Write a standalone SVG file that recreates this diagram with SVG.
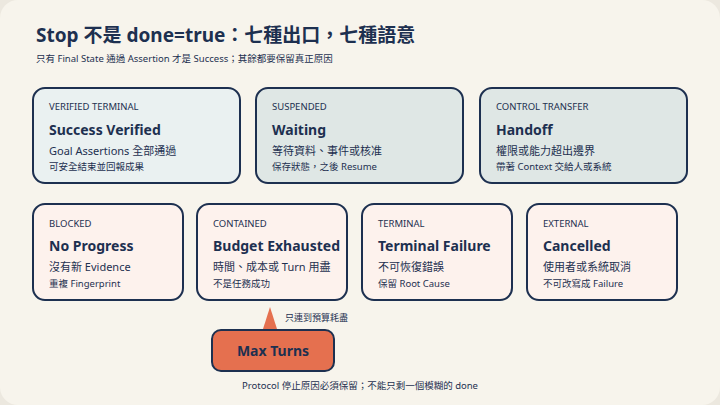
<svg xmlns="http://www.w3.org/2000/svg" width="720" height="405" viewBox="0 0 720 405">
<style>
text{font-family:"Noto Sans","Noto Sans CJK TC",sans-serif;fill:#1d3050}
.box{stroke:#1d3050;stroke-width:2}
.tag{font-size:9.5px}
.ttl{font-size:14px;font-weight:bold}
.l1{font-size:11px}
.l2{font-size:9.5px}
</style>
<rect width="720" height="405" fill="#ece8df"/>
<rect x="0" y="0" width="720" height="405" rx="18" fill="#f7f4ec"/>
<text x="36" y="42" style="font-size:19px;font-weight:bold">Stop 不是 done=true：七種出口，七種語意</text>
<text x="36" y="62" style="font-size:9.5px">只有 Final State 通過 Assertion 才是 Success；其餘都要保留真正原因</text>
<g id="verified"><rect class="box" x="33" y="88" width="207" height="95" rx="12" fill="#eaf1f1"/>
<text class="tag" x="49" y="110">VERIFIED TERMINAL</text><text class="ttl" x="49" y="135">Success Verified</text>
<text class="l1" x="49" y="155">Goal Assertions 全部通過</text><text class="l2" x="49" y="170">可安全結束並回報成果</text></g>
<g id="waiting"><rect class="box" x="256" y="88" width="207" height="95" rx="12" fill="#dfe7e5"/>
<text class="tag" x="272" y="110">SUSPENDED</text><text class="ttl" x="272" y="135">Waiting</text>
<text class="l1" x="272" y="155">等待資料、事件或核准</text><text class="l2" x="272" y="170">保存狀態，之後 Resume</text></g>
<g id="handoff"><rect class="box" x="480" y="88" width="207" height="95" rx="12" fill="#dfe7e5"/>
<text class="tag" x="496" y="110">CONTROL TRANSFER</text><text class="ttl" x="496" y="135">Handoff</text>
<text class="l1" x="496" y="155">權限或能力超出邊界</text><text class="l2" x="496" y="170">帶著 Context 交給人或系統</text></g>
<g id="blocked"><rect class="box" x="33" y="204" width="150" height="96" rx="12" fill="#fdf2ed"/>
<text class="tag" x="49" y="227">BLOCKED</text><text class="ttl" x="49" y="251">No Progress</text>
<text class="l1" x="49" y="271">沒有新 Evidence</text><text class="l2" x="49" y="287">重複 Fingerprint</text></g>
<g id="budget"><rect class="box" x="197" y="204" width="150" height="96" rx="12" fill="#fdf2ed"/>
<text class="tag" x="213" y="227">CONTAINED</text><text class="ttl" x="213" y="251">Budget Exhausted</text>
<text class="l1" x="213" y="271">時間、成本或 Turn 用盡</text><text class="l2" x="213" y="287">不是任務成功</text></g>
<g id="terminal"><rect class="box" x="362" y="204" width="150" height="96" rx="12" fill="#fdf2ed"/>
<text class="tag" x="378" y="227">TERMINAL</text><text class="ttl" x="378" y="251">Terminal Failure</text>
<text class="l1" x="378" y="271">不可恢復錯誤</text><text class="l2" x="378" y="287">保留 Root Cause</text></g>
<g id="cancelled"><rect class="box" x="527" y="204" width="150" height="96" rx="12" fill="#fdf2ed"/>
<text class="tag" x="543" y="227">EXTERNAL</text><text class="ttl" x="543" y="251">Cancelled</text>
<text class="l1" x="543" y="271">使用者或系統取消</text><text class="l2" x="543" y="287">不可改寫成 Failure</text></g>
<g id="maxturns"><rect class="box" x="212" y="330" width="122" height="41" rx="9" fill="#e5704f"/>
<text x="273" y="356" text-anchor="middle" style="font-size:14px;font-weight:bold">Max Turns</text></g>
<g id="connectors">
<polygon points="270,307 263,329 277,329" fill="#e5704f"/>
<text x="285" y="321" style="font-size:9px">只連到預算耗盡</text>
</g>
<text x="360" y="389" text-anchor="middle" style="font-size:9.5px">Protocol 停止原因必須保留；不能只剩一個模糊的 done</text>
</svg>
